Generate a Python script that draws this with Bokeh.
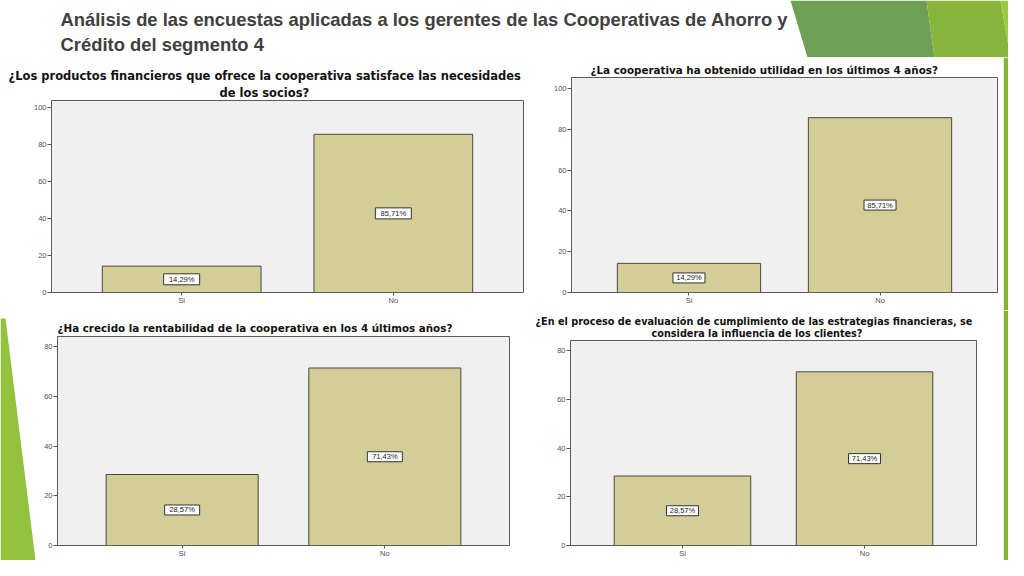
from bokeh.plotting import figure
from bokeh.models import FactorRange, Range1d, FixedTicker, ColumnDataSource, Title
from bokeh.layouts import column, row
from bokeh.core.properties import value
from bokeh.embed import file_html
from bokeh.resources import INLINE

# ---------------- data ----------------
categories = ["Si", "No"]

slide_title = ["Análisis de las encuestas aplicadas a los gerentes de las Cooperativas de Ahorro y",
               "Crédito del segmento 4"]

q1_title = ["¿Los productos financieros que ofrece la cooperativa satisface las necesidades",
            "de los socios?"]
q1_values = [14.29, 85.71]

q2_title = ["¿La cooperativa ha obtenido utilidad en los últimos 4 años?"]
q2_values = [14.29, 85.71]

q3_title = ["¿Ha crecido la rentabilidad de la cooperativa en los 4 últimos años?"]
q3_values = [28.57, 71.43]

q4_title = ["¿En el proceso de evaluación de cumplimiento de las estrategias financieras, se",
            "considera la influencia de los clientes?"]
q4_values = [28.57, 71.43]

ticks_100 = [0, 20, 40, 60, 80, 100]
ticks_80 = [0, 20, 40, 60, 80]

# ---------------- styles ----------------
FONT = "Liberation Sans"
TFONT = "DejaVu Sans"
BAR_FILL = "#d3ce97"
BAR_LINE = "#4b4a3a"
FRAME_BG = "#f0f0f0"
DARK_G = "#6f9f55"
MID_G = "#87b53c"
LIGHT_G = "#9cc943"
STRIP_A = "#86b532"


def fmt(v):
    return ("%.2f" % v).replace(".", ",") + "%"


def blank(width, height, xr, yr):
    p = figure(width=width, height=height, x_range=Range1d(*xr), y_range=Range1d(*yr),
               output_backend="svg", toolbar_location=None,
               x_axis_location=None, y_axis_location=None,
               min_border=0, min_border_left=0, min_border_right=0,
               min_border_top=0, min_border_bottom=0)
    p.frame_align = False
    p.outline_line_color = None
    p.background_fill_color = "white"
    p.border_fill_color = "white"
    p.xgrid.visible = False
    p.ygrid.visible = False
    return p


def style_title(t, size, offset, standoff):
    t.align = "left"
    t.offset = offset
    t.text_font = TFONT
    t.text_font_size = "%spx" % size
    t.text_font_style = "bold"
    t.text_color = "#111111"
    t.standoff = standoff


def chart(width, height, borders, values, ymax, ticks, title_lines, title_size,
          title_offsets, title_standoffs, box_w, box_h, pad=0.115):
    left, right, top, bottom = borders
    p = figure(width=width, height=height,
               x_range=FactorRange(factors=categories, range_padding=pad,
                                   range_padding_units="absolute"),
               y_range=Range1d(0, ymax),
               output_backend="svg", toolbar_location=None,
               min_border_left=left, min_border_right=right,
               min_border_top=top, min_border_bottom=bottom)
    p.frame_align = False
    # p.title is the outermost line; later added titles sit nearer the frame
    p.title.text = title_lines[0]
    style_title(p.title, title_size, title_offsets[0], title_standoffs[0])
    for line, off, so in zip(title_lines[1:], title_offsets[1:], title_standoffs[1:]):
        t = Title(text=line)
        style_title(t, title_size, off, so)
        p.add_layout(t, "above")

    p.background_fill_color = FRAME_BG
    p.border_fill_color = "white"
    p.outline_line_color = "#5a5a5a"
    p.outline_line_width = 1
    p.xgrid.visible = False
    p.ygrid.visible = False

    p.yaxis.ticker = FixedTicker(ticks=ticks)
    for ax in (p.xaxis, p.yaxis):
        ax.axis_line_color = None
        ax.major_tick_in = 0
        ax.major_tick_out = 4
        ax.major_tick_line_color = "#555555"
        ax.minor_tick_line_color = None
        ax.major_label_text_font = FONT
        ax.major_label_text_font_size = "7.5px"
        ax.major_label_text_color = "#505050"
        ax.major_label_standoff = 1
    p.xaxis.major_tick_out = 3
    p.xaxis.major_label_standoff = 0

    src = ColumnDataSource(dict(cat=categories, val=values,
                                mid=[v / 2 for v in values],
                                lbl=[fmt(v) for v in values]))
    p.vbar(x="cat", top="val", width=0.75, source=src,
           fill_color=BAR_FILL, line_color=BAR_LINE, line_width=1)
    p.rect(x="cat", y="mid", width=box_w, height=box_h, width_units="screen",
           height_units="screen", source=src, fill_color="white",
           line_color="#333333", line_width=1)
    p.text(x="cat", y="mid", text="lbl", source=src, text_align="center",
           text_baseline="middle", text_font=value(FONT), text_font_size="7.5px",
           text_color="#222222")
    return p


# ---------------- slide header ----------------
head = blank(1008, 57, (0, 1008), (57, 0))
head.patch([790, 926, 934, 807], [0, 0, 57, 57], fill_color=DARK_G, line_color=None)
head.patch([926, 1000, 1010, 934], [0, 0, 57, 57], fill_color=MID_G, line_color=None)
head.patch([1000, 1024, 1024, 1010], [0, 0, 57, 57], fill_color=LIGHT_G, line_color=None)
head.text(x=[60, 60], y=[19, 44], text=slide_title, text_font=value(FONT),
          text_font_size="18.4px", text_font_style="bold", text_color="#404040",
          text_baseline="middle")

# ---------------- row 1 (y 57..310) ----------------
c1 = chart(540, 253, (51, 17, 43, 18), q1_values, 104, ticks_100, q1_title,
           11.5, (-43, 168), (0, 2), 36, 11)
c2 = chart(463, 253, (31, 6, 20, 18), q2_values, 105.4, ticks_100, q2_title,
           10.35, (19,), (4,), 32, 10)
s1 = blank(5, 253, (1003, 1008), (310, 57))
s1.quad(left=[1003], right=[1008], top=[57], bottom=[310],
        fill_color=[STRIP_A], line_color=None)

# ---------------- row 2 (y 310..560) ----------------
ls = blank(38, 250, (0, 38), (560, 310))
ls.patch([0, 5, 37, 0], [318, 318, 576, 576], fill_color="#93c23f", line_color=None)

c3 = chart(497, 250, (19, 26, 26, 12), q3_values, 84.1, ticks_80, q3_title,
           10.35, (0,), (5,), 35, 10)

band = blank(468, 5, (535, 1003), (315, 310))
band.quad(left=[915, 958], right=[958, 1003], top=[310, 310], bottom=[315, 315],
          fill_color=[DARK_G, STRIP_A], line_color=None)
c4 = chart(468, 245, (35, 27, 24, 12), q4_values, 84.3, ticks_80, q4_title,
           9.7, (-35, 81), (-4, 3), 32, 10)

s2 = blank(5, 250, (1003, 1008), (560, 310))
s2.quad(left=[1003], right=[1008], top=[310], bottom=[560],
        fill_color=[STRIP_A], line_color=None)

layout = column(head,
                row(c1, c2, s1),
                row(ls, c3, column(band, c4), s2))

open("out.html", "w").write(file_html(layout, INLINE))
